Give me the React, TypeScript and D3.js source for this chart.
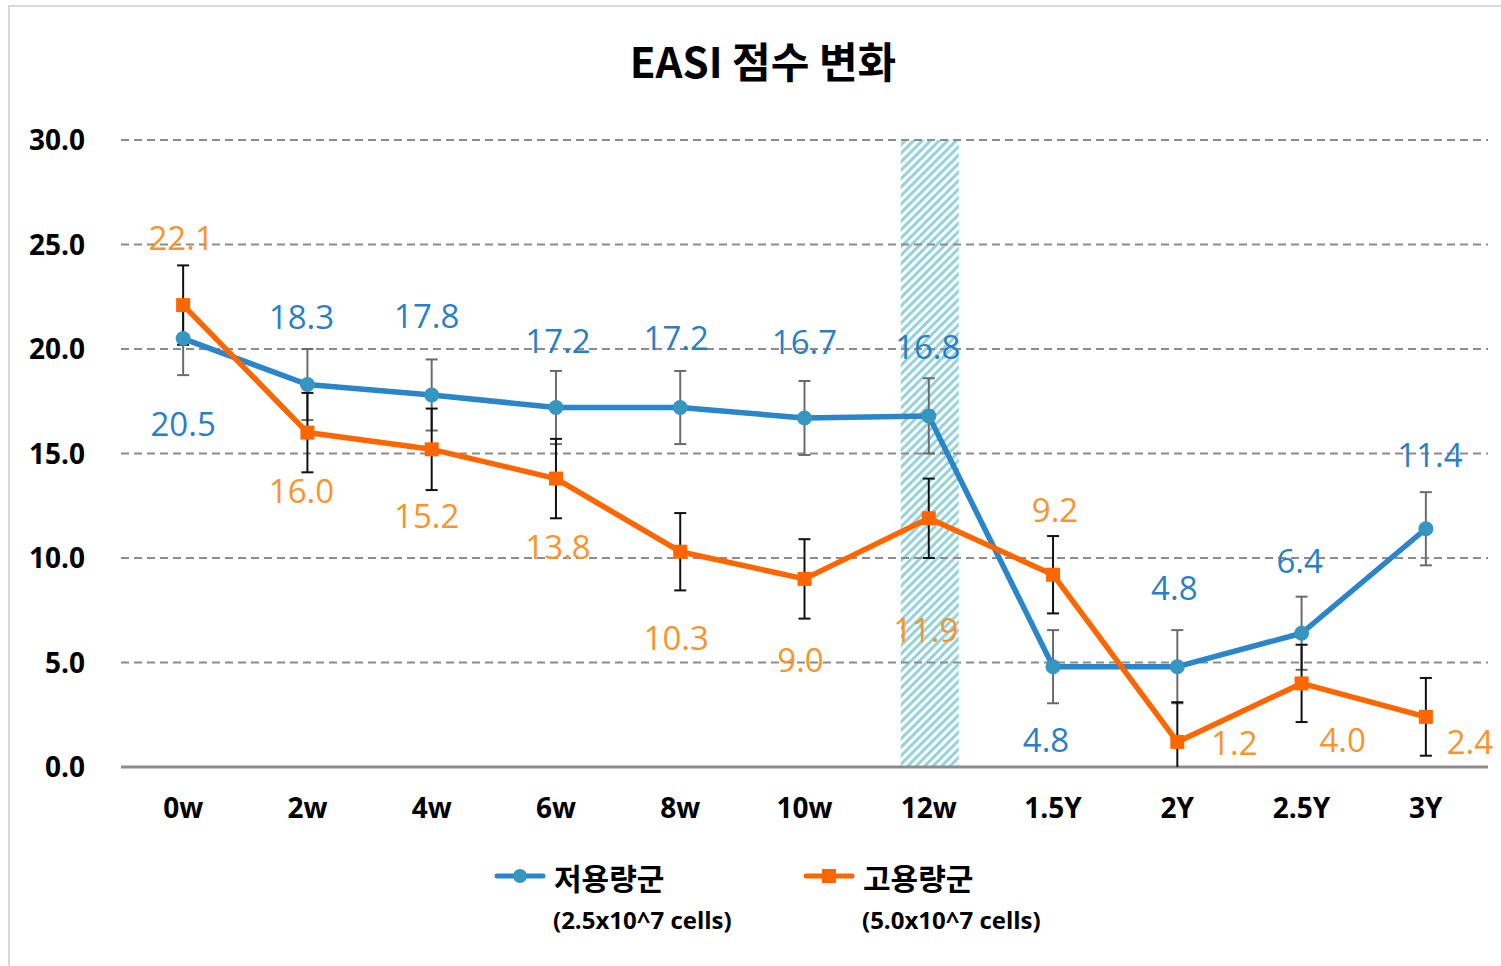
import { useRef, useEffect } from 'react';
import { select, scaleLinear, scaleBand, line } from 'd3';

// Data
const categories = ['0w', '2w', '4w', '6w', '8w', '10w', '12w', '1.5Y', '2Y', '2.5Y', '3Y'];
const lowDose = [20.5, 18.3, 17.8, 17.2, 17.2, 16.7, 16.8, 4.8, 4.8, 6.4, 11.4];
const highDose = [22.1, 16.0, 15.2, 13.8, 10.3, 9.0, 11.9, 9.2, 1.2, 4.0, 2.4];
const lowDoseErr = [1.75, 1.7, 1.7, 1.75, 1.75, 1.77, 1.8, 1.75, 1.75, 1.75, 1.75];
const highDoseErr = [1.9, 1.9, 1.95, 1.9, 1.85, 1.9, 1.9, 1.85, 1.9, 1.85, 1.86];
const yTicks = [0, 5, 10, 15, 20, 25, 30];
const highlightCategory = '12w';

// label offsets from each point (dx, dy to the text's centre), as placed in the original
const lowLabelOffset = [[0, 85], [-6, -68], [-5, -79], [2, -67], [-4, -70], [0, -76], [-1, -69], [-7, 73], [-3, -79], [-2, -72], [4, -74]];
const highLabelOffset = [[-2, -67], [-6, 58], [-5, 67], [2, 68], [-4, 86], [-4, 81], [-3, 112], [2, -65], [57, 1], [41, 57], [44, 25]];

const width = 1501;
const height = 966;
const margin = { top: 140, left: 121, right: 13, bottom: 199 };

const BLUE_LINE = '#2a85c9';
const BLUE_MARK = '#3596bf';
const BLUE_TEXT = '#2a7fc3';
const ORANGE = '#ff6600';
const ORANGE_TEXT = '#f7952d';
const FONT = '"Open Sans", "Noto Sans", "Noto Sans CJK KR", sans-serif';
const CJK = '"Noto Sans CJK KR", "Noto Sans", sans-serif';

function App() {
    const svgRef = useRef<SVGSVGElement | null>(null);

    useEffect(() => {
        const svg = select(svgRef.current);
        svg.selectAll('*').remove();

        const x = scaleBand<string>()
            .domain(categories)
            .range([margin.left, width - margin.right])
            .padding(0);
        const y = scaleLinear().domain([0, 30]).range([height - margin.bottom, margin.top]);
        const cx = (c: string) => (x(c) as number) + x.bandwidth() / 2;

        // frame
        svg.append('rect')
            .attr('x', 9).attr('y', 6)
            .attr('width', width + 10).attr('height', height + 10)
            .attr('fill', 'white')
            .attr('stroke', '#d9d9d9').attr('stroke-width', 2);

        // hatch pattern
        const defs = svg.append('defs');
        const pat = defs.append('pattern')
            .attr('id', 'hatch')
            .attr('patternUnits', 'userSpaceOnUse')
            .attr('width', 6).attr('height', 6)
            .attr('patternTransform', 'rotate(45)');
        pat.append('rect').attr('width', 6).attr('height', 6).attr('fill', 'white');
        pat.append('rect').attr('width', 3).attr('height', 6).attr('fill', '#94d3da');

        // title
        svg.append('text')
            .attr('x', 763).attr('y', 78)
            .attr('text-anchor', 'middle')
            .style('font-family', CJK)
            .style('font-weight', 700)
            .style('font-size', '42px')
            .text('EASI 점수 변화');

        // highlight band
        const bx = cx(highlightCategory);
        svg.append('rect')
            .attr('x', bx - 28).attr('y', y(30))
            .attr('width', 58).attr('height', y(0) - y(30))
            .attr('fill', 'url(#hatch)');

        // grid
        svg.append('g')
            .selectAll('line')
            .data(yTicks.filter((t) => t > 0))
            .join('line')
            .attr('x1', margin.left).attr('x2', width - margin.right)
            .attr('y1', (d) => y(d)).attr('y2', (d) => y(d))
            .attr('stroke', '#8c8c8c')
            .attr('stroke-width', 2)
            .attr('stroke-dasharray', '8,5');
        svg.append('line')
            .attr('x1', margin.left).attr('x2', width - margin.right)
            .attr('y1', y(0)).attr('y2', y(0))
            .attr('stroke', '#8c8c8c').attr('stroke-width', 3);

        // y tick labels
        svg.append('g')
            .selectAll('text')
            .data(yTicks)
            .join('text')
            .attr('x', 85).attr('y', (d) => y(d) + 10)
            .attr('text-anchor', 'end')
            .style('font-family', FONT)
            .style('font-weight', 700)
            .style('font-size', '28px')
            .text((d) => d.toFixed(1));

        // x labels
        svg.append('g')
            .selectAll('text')
            .data(categories)
            .join('text')
            .attr('x', (d) => cx(d)).attr('y', 818)
            .attr('text-anchor', 'middle')
            .style('font-family', FONT)
            .style('font-weight', 700)
            .style('font-size', '28px')
            .text((d) => d);

        const drawErr = (vals: number[], errs: number[], color: string) => {
            const g = svg.append('g').attr('stroke', color).attr('stroke-width', 2);
            categories.forEach((c, i) => {
                const top = y(vals[i] + errs[i]);
                const bot = y(Math.max(0, vals[i] - errs[i]));
                const px = cx(c);
                g.append('line').attr('x1', px).attr('x2', px).attr('y1', top).attr('y2', bot);
                g.append('line').attr('x1', px - 6).attr('x2', px + 6).attr('y1', top).attr('y2', top);
                if (vals[i] - errs[i] > 0) {
                    g.append('line').attr('x1', px - 6).attr('x2', px + 6).attr('y1', bot).attr('y2', bot);
                }
            });
        };
        drawErr(lowDose, lowDoseErr, '#6b6b6b');
        drawErr(highDose, highDoseErr, '#111');

        const lineGen = line<number>()
            .x((d, i) => cx(categories[i]))
            .y((d) => y(d));

        // low dose series
        svg.append('path')
            .attr('d', lineGen(lowDose))
            .attr('fill', 'none')
            .attr('stroke', BLUE_LINE)
            .attr('stroke-width', 5.5)
            .attr('stroke-linejoin', 'round');
        svg.append('g')
            .selectAll('circle')
            .data(lowDose)
            .join('circle')
            .attr('cx', (d, i) => cx(categories[i]))
            .attr('cy', (d) => y(d))
            .attr('r', 7.5)
            .attr('fill', BLUE_MARK);

        // high dose series
        svg.append('path')
            .attr('d', lineGen(highDose))
            .attr('fill', 'none')
            .attr('stroke', ORANGE)
            .attr('stroke-width', 5.5)
            .attr('stroke-linejoin', 'round');
        svg.append('g')
            .selectAll('rect')
            .data(highDose)
            .join('rect')
            .attr('x', (d, i) => cx(categories[i]) - 7)
            .attr('y', (d) => y(d) - 7)
            .attr('width', 14).attr('height', 14)
            .attr('fill', ORANGE);

        // value labels
        const drawLabels = (vals: number[], offs: number[][], color: string, cls: string) => {
            svg.append('g')
                .selectAll('text.' + cls)
                .data(vals)
                .join('text')
                .attr('class', cls)
                .attr('x', (d, i) => cx(categories[i]) + offs[i][0])
                .attr('y', (d, i) => y(d) + offs[i][1] + 12)
                .attr('text-anchor', 'middle')
                .style('font-family', FONT)
                .style('font-size', '33px')
                .attr('fill', color)
                .text((d) => d.toFixed(1));
        };
        drawLabels(lowDose, lowLabelOffset, BLUE_TEXT, 'lo');
        drawLabels(highDose, highLabelOffset, ORANGE_TEXT, 'hi');

        // legend
        const legend = [
            { name: '저용량군', sub: '(2.5x10^7 cells)', color: BLUE_LINE, mark: BLUE_MARK, x: 497, shape: 'circle' },
            { name: '고용량군', sub: '(5.0x10^7 cells)', color: ORANGE, mark: ORANGE, x: 806, shape: 'rect' },
        ];
        legend.forEach((l) => {
            const g = svg.append('g');
            g.append('line')
                .attr('x1', l.x).attr('x2', l.x + 46)
                .attr('y1', 876).attr('y2', 876)
                .attr('stroke', l.color).attr('stroke-width', 5)
                .attr('stroke-linecap', 'round');
            if (l.shape === 'circle') {
                g.append('circle').attr('cx', l.x + 23).attr('cy', 876).attr('r', 7).attr('fill', l.mark);
            } else {
                g.append('rect').attr('x', l.x + 16).attr('y', 869).attr('width', 14).attr('height', 14).attr('fill', l.mark);
            }
            g.append('text')
                .attr('x', l.x + 57).attr('y', 890)
                .style('font-family', CJK)
                .style('font-weight', 700)
                .style('font-size', '30px')
                .text(l.name);
            g.append('text')
                .attr('x', l.x + 56).attr('y', 929)
                .style('font-family', FONT)
                .style('font-weight', 700)
                .style('font-size', '24px')
                .text(l.sub);
        });
    }, []);

    return (
        <svg
            ref={svgRef}
            width={width}
            height={height}
            style={{ position: 'absolute', left: 0, top: 0, background: 'white' }}
        ></svg>
    );
}

export default App;
